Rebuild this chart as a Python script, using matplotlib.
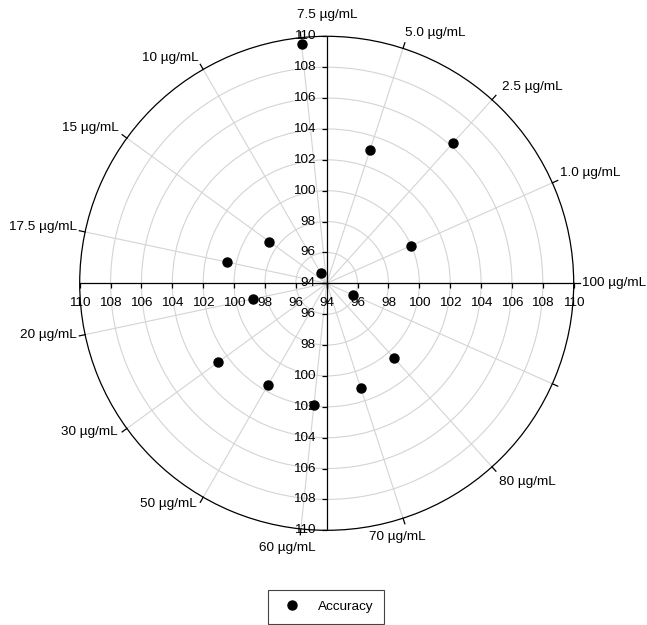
import numpy as np
import matplotlib
matplotlib.use("Agg")
import matplotlib.pyplot as plt

plt.rcParams['font.family'] = ['Liberation Sans', 'DejaVu Sans']
plt.rcParams['font.size'] = 9.7

# ---- data ----
categories = ['100 µg/mL', '1.0 µg/mL', '2.5 µg/mL', '5.0 µg/mL', '7.5 µg/mL',
              '10 µg/mL', '15 µg/mL', '17.5 µg/mL', '20 µg/mL', '30 µg/mL',
              '50 µg/mL', '60 µg/mL', '70 µg/mL', '80 µg/mL', '']
accuracy = [np.nan, 100.0, 106.2, 103.1, 109.6,
            94.75, 98.6, 100.6, 98.9, 102.7,
            101.6, 101.9, 101.1, 100.5, 95.9]
r_ticks = [94, 96, 98, 100, 102, 104, 106, 108, 110]
r_min, r_max = 94, 110

# ---- label placement (pixel offsets from spoke end, ha, va) ----
label_style = [
    (8, 0, 'left', 'center'),
    (8, 10, 'left', 'center'),
    (10, 13, 'left', 'center'),
    (2, 15, 'left', 'center'),
    (-4, 23, 'left', 'center'),
    (-5, 11, 'right', 'center'),
    (-8, 10, 'right', 'center'),
    (-8, 5, 'right', 'center'),
    (-8, 0, 'right', 'center'),
    (-9, -4, 'right', 'center'),
    (-6, -7, 'right', 'center'),
    (-14, -19, 'center', 'center'),
    (-6, -19, 'center', 'center'),
    (7, -15, 'left', 'center'),
    (0, 0, 'left', 'center'),
]

W, H = 647, 625
fig = plt.figure(figsize=(W / 100, H / 100), dpi=100)
cx, cy, R = 326.7, 283.3, 247.0
ax = fig.add_axes([(cx - R) / W, (H - cy - R) / H, 2 * R / W, 2 * R / H],
                  projection='polar')
ax.set_theta_zero_location('E')
ax.set_theta_direction(1)
ax.set_ylim(r_min, r_max)

n = len(categories)
theta = np.deg2rad(np.arange(n) * 360.0 / n)

grid_c = '#d4d4d4'
ax.set_xticks(theta)
ax.set_xticklabels([])
ax.set_yticks(r_ticks[1:-1])
ax.set_yticklabels([])
ax.grid(True, color=grid_c, lw=0.8)
ax.tick_params(axis='both', length=0)
ax.spines['polar'].set_color('black')
ax.spines['polar'].set_linewidth(0.9)

# straight axes through centre
for a in [0, np.pi / 2, np.pi, 3 * np.pi / 2]:
    ax.plot([a, a], [r_min, r_max], color='black', lw=0.9, zorder=3)

# axis tick marks
rt = np.array(r_ticks)
for a in [0, np.pi]:
    ax.plot(np.full(len(rt), a), rt, linestyle='none', marker=3,
            markersize=3.8, color='black', mew=0.9, zorder=3, clip_on=False)
for a in [np.pi / 2, 3 * np.pi / 2]:
    ax.plot(np.full(len(rt), a), rt, linestyle='none', marker=0,
            markersize=3.8, color='black', mew=0.9, zorder=3, clip_on=False)

# axis tick labels
for v in r_ticks:
    ax.annotate(str(v), xy=(0, v), xytext=(0, -20), textcoords='offset pixels',
                ha='center', va='center', annotation_clip=False)
    ax.annotate(str(v), xy=(np.pi / 2, v), xytext=(-11, 0), textcoords='offset pixels',
                ha='right', va='center', annotation_clip=False)
    if v != r_min:
        ax.annotate(str(v), xy=(np.pi, v), xytext=(0, -20), textcoords='offset pixels',
                    ha='center', va='center', annotation_clip=False)
        ax.annotate(str(v), xy=(3 * np.pi / 2, v), xytext=(-11, 0),
                    textcoords='offset pixels', ha='right', va='center',
                    annotation_clip=False)

# outer spoke ticks and category labels
for t, lab, (dx, dy, ha, va) in zip(theta, categories, label_style):
    ax.plot([t, t], [r_max, r_max + 0.38], color='black', lw=0.9, clip_on=False)
    if lab:
        ax.annotate(lab, xy=(t, r_max), xytext=(dx, dy), textcoords='offset pixels',
                    ha=ha, va=va, annotation_clip=False)

# data
pts, = ax.plot(theta, accuracy, linestyle='none', marker='o', markersize=6.5,
               color='black', zorder=5, clip_on=False, label='Accuracy')

leg = fig.legend(handles=[pts], loc='upper left',
                 bbox_to_anchor=(268 / W, 1 - 590 / H), borderaxespad=0,
                 borderpad=0.8, handlelength=1.9, handletextpad=1.0,
                 fancybox=False, framealpha=1, edgecolor='#444444')
leg.get_frame().set_linewidth(0.8)

fig.savefig('out.png', dpi=100)
